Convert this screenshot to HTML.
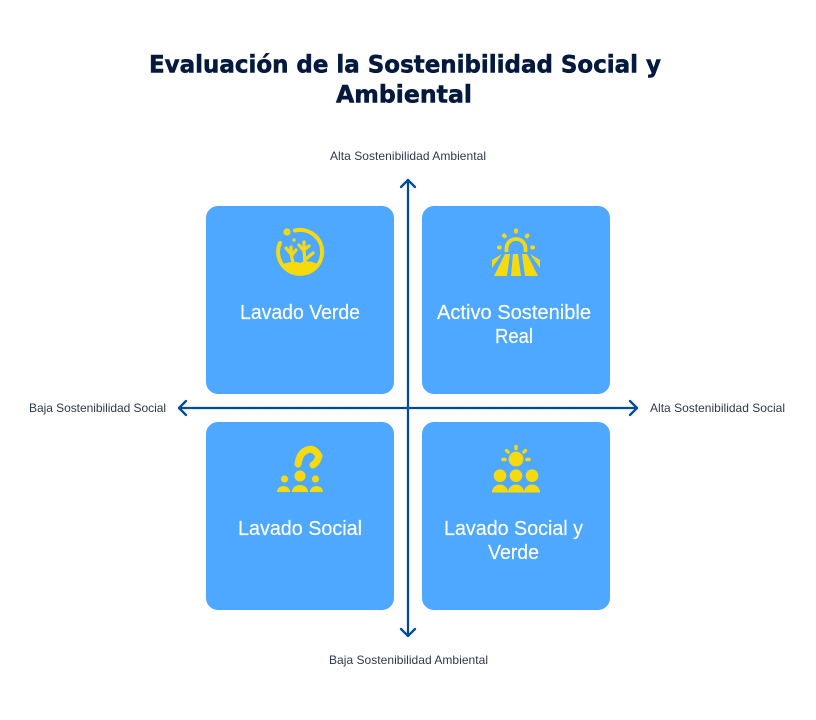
<!DOCTYPE html>
<html lang="es"><head><meta charset="utf-8"><title>Evaluación de la Sostenibilidad Social y Ambiental</title>
<style>html,body{margin:0;padding:0;background:#fff}svg{display:block}
text{font-family:"Liberation Sans",sans-serif}
.t{font-family:"DejaVu Sans","Liberation Sans",sans-serif;font-size:24px;font-weight:700;fill:#03193d;stroke:#03193d;stroke-width:.55}
.c{font-size:20px;fill:#fff;stroke:#fff;stroke-width:.15}
.a{font-size:12px;fill:#2d3a4c}
</style></head><body>
<svg width="816" height="720" viewBox="0 0 816 720" xmlns="http://www.w3.org/2000/svg">
<rect width="816" height="720" fill="#fff"/>
<text class="t" x="149" y="72.700" textLength="512" lengthAdjust="spacingAndGlyphs">Evaluación de la Sostenibilidad Social y</text>
<text class="t" x="336" y="102.700" textLength="136" lengthAdjust="spacingAndGlyphs">Ambiental</text>

<g fill="#4ea8ff">
<rect x="206" y="206" width="188" height="188" rx="12"/>
<rect x="422" y="206" width="188" height="188" rx="12"/>
<rect x="206" y="422" width="188" height="188" rx="12"/>
<rect x="422" y="422" width="188" height="188" rx="12"/>
</g>

<g fill="none" stroke="#024b95" stroke-width="2.300" stroke-linecap="round" stroke-linejoin="round">
<path d="M408 180V636M179 408H637"/>
<path d="M401 187L408 180L415 187"/>
<path d="M401 629L408 636L415 629"/>
<path d="M186 401L179 408L186 415"/>
<path d="M630 401L637 408L630 415"/>
</g>

<text class="a" x="330" y="160" textLength="156">Alta Sostenibilidad Ambiental</text>
<text class="a" x="329" y="664" textLength="159">Baja Sostenibilidad Ambiental</text>
<text class="a" x="29" y="412" textLength="137">Baja Sostenibilidad Social</text>
<text class="a" x="650" y="412" textLength="135">Alta Sostenibilidad Social</text>

<text class="c" x="240" y="319" textLength="120" lengthAdjust="spacingAndGlyphs">Lavado Verde</text>
<text class="c" x="437" y="319" textLength="154" lengthAdjust="spacingAndGlyphs">Activo Sostenible</text>
<text class="c" x="495" y="343" textLength="38" lengthAdjust="spacingAndGlyphs">Real</text>
<text class="c" x="238" y="535" textLength="124" lengthAdjust="spacingAndGlyphs">Lavado Social</text>
<text class="c" x="444" y="535" textLength="139" lengthAdjust="spacingAndGlyphs">Lavado Social y</text>
<text class="c" x="488" y="559" textLength="51" lengthAdjust="spacingAndGlyphs">Verde</text>

<g fill="#f7da0e">
<!-- coral -->
<path d="M295 230.500A22 22 0 1 1 280 243" fill="none" stroke="#f7da0e" stroke-width="4" stroke-linecap="round"/>
<circle cx="287" cy="232" r="3.600"/><circle cx="294" cy="240" r="1.700"/>
<path d="M283 264C289 262 295 261 300 263C306 260 312 261 317 264C314 271 306 275 300 275C292 275 286 270 283 264Z"/>
<path d="M293 263L291 253M291 254L286 248M291 253L291 247M292 255L296 250M305 263L304 250M304 251L299 245M304 249L304 242M304 250L309 246M306 259L313 253" fill="none" stroke="#f7da0e" stroke-width="3.200" stroke-linecap="round"/>
<!-- field -->
<path d="M506.500 252V248.500A9.500 9.500 0 0 1 525.500 248.500V252" fill="none" stroke="#f7da0e" stroke-width="3.800"/>
<g fill="none" stroke="#f7da0e" stroke-width="4" stroke-linecap="round">
<path d="M516 230.500V231.500"/><path d="M504 235.500L504.700 236.200"/><path d="M527.500 235.500L526.800 236.200"/><path d="M499 247.500H499.800"/><path d="M532.200 247.500H533"/>
</g>
<path d="M492 260L502 254L492 268Z"/>
<path d="M505 254H510L507 276H494Z"/>
<path d="M513 254H518L521 276H511Z"/>
<path d="M522 254H527L538 276H525Z"/>
<path d="M530 254L540 260V268Z"/>
<!-- social -->
<path d="M298 464C299 458 301 453 305 451C310 448 314 449 317 453L319 456C318 460 316 463 313 465" fill="none" stroke="#f7da0e" stroke-width="7" stroke-linecap="round" stroke-linejoin="round"/>
<circle cx="300" cy="476" r="5.500"/><circle cx="284.500" cy="479" r="3.600"/><circle cx="315.500" cy="479" r="3.600"/>
<path d="M277 492A6.500 6 0 0 1 290 492Z"/><path d="M292 492A8 7 0 0 1 308 492Z"/><path d="M310 492A6.500 6 0 0 1 323 492Z"/>
<!-- sun people -->
<circle cx="516" cy="459" r="7.400"/>
<g fill="none" stroke="#f7da0e" stroke-width="3.400" stroke-linecap="round">
<path d="M516 446.500V448.500"/><path d="M506.500 450.500L508 452"/><path d="M525.500 450.500L524 452"/><path d="M503 459.500H505"/><path d="M527 459.500H529"/>
</g>
<circle cx="500" cy="475.700" r="6.300"/><circle cx="516" cy="475.700" r="6.300"/><circle cx="532" cy="475.700" r="6.300"/>
<path d="M492 492.500A8 8 0 0 1 508 492.500Z"/><path d="M508 492.500A8 8 0 0 1 524 492.500Z"/><path d="M524 492.500A8 8 0 0 1 540 492.500Z"/>
</g>
</svg>
</body></html>
